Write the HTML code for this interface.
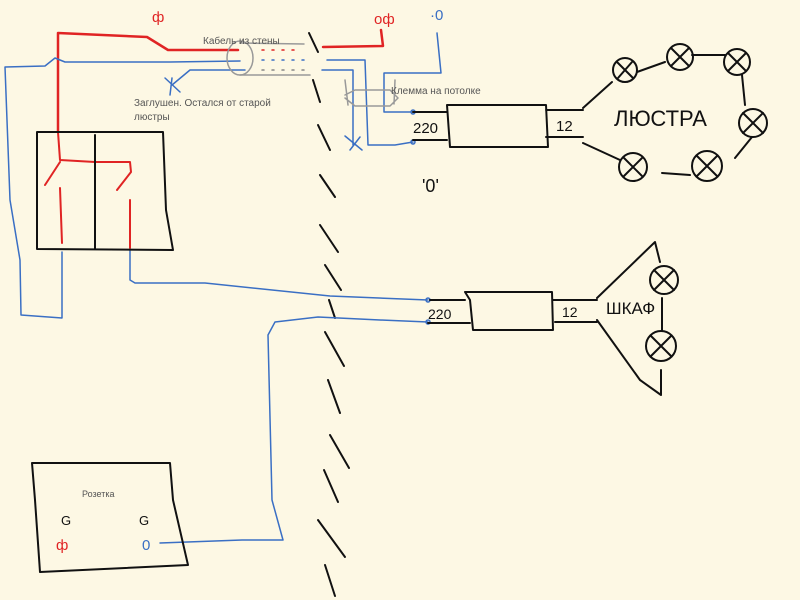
<!DOCTYPE html>
<html><head><meta charset="utf-8"><style>
html,body{margin:0;padding:0;background:#fdf8e4;}
svg{display:block}
text{font-family:"Liberation Sans",sans-serif}
</style></head><body>
<svg width="800" height="600" viewBox="0 0 800 600" xmlns="http://www.w3.org/2000/svg">
<rect width="800" height="600" fill="#fdf8e4"/>
<g fill="none" stroke-linecap="round" stroke-linejoin="round">
<!-- wall dashed -->
<path d="M309,33 L318,52 M313,80 L320,102 M318,125 L330,150 M320,175 L335,197 M320,225 L338,252 M325,265 L341,290 M329,300 L335,318 M325,332 L344,366 M328,380 L340,413 M330,435 L349,468 M324,470 L338,502 M318,520 L345,557 M325,565 L335,596" stroke="#111" stroke-width="2"/>
<!-- red lines -->
<path d="M58,132 L58,33 L147,37 L168,50 L238,50" stroke="#e02424" stroke-width="2.5"/>
<path d="M323,47 L383,46 L381,30" stroke="#e02424" stroke-width="2.5"/>
<path d="M58,132 L60,160 L95,162 L130,162 L131,172 L117,190 M60,162 L45,185 M60,188 L62,243 M130,200 L130,248" stroke="#e02424" stroke-width="2"/>
<!-- blue lines -->
<g stroke="#3a6fc4" stroke-width="1.5">
<path d="M240,61 L170,62 L65,62 L55,58 L45,66 L5,67 L10,200 L20,260 L21,315 L62,318 L62,252"/>
<path d="M245,70 L190,70 L172,85 M165,78 L180,92 M172,78 L170,95"/>
<path d="M327,60 L365,60 L368,145 L395,145 L413,142"/>
<path d="M322,70 L353,70 L353,145 M345,136 L362,150 M350,150 L360,137"/>
<path d="M437,33 L441,73 L384,73 L384,112 L413,112"/>
<path d="M130,250 L130,280 L135,283 L205,283 L330,296 L428,300"/>
<path d="M428,322 L380,320 L318,317 L275,322 L268,335 L272,500 L283,540 L242,540 L160,543"/>
<circle cx="413" cy="112" r="2"/><circle cx="413" cy="142" r="2"/>
<circle cx="428" cy="300" r="2"/><circle cx="428" cy="322" r="2"/>
</g>
<!-- cable -->
<g stroke="#999" stroke-width="1.5">
<ellipse cx="240" cy="58" rx="13" ry="17"/>
<path d="M240,43 L304,44 M240,75 L310,75"/>
<path d="M345,80 L348,105 M345,95 L355,90 L390,90 L398,98 L390,106 L355,106 L345,98 M395,80 L394,104"/>
</g>
<g stroke-dasharray="2 8" stroke-width="1.5">
<path d="M262,50 L300,50" stroke="#e02424"/>
<path d="M262,60 L312,60" stroke="#3a6fc4"/>
<path d="M262,70 L312,70" stroke="#888"/>
</g>
<!-- black -->
<g stroke="#111" stroke-width="2">
<path d="M37,132 L163,132 L166,210 L173,250 L37,249 Z M95,135 L95,248"/>
<path d="M447,105 L546,105 L548,147 L450,147 Z M413,112 L447,112 M413,140 L447,140 M546,110 L583,110 M546,137 L583,137"/>
<path d="M583,108 L612,82 M637,72 L665,62 M692,55 L725,55 M742,75 L745,105 M752,137 L735,158 M690,175 L662,173 M583,143 L620,160"/>
<circle cx="625" cy="70" r="12"/><path d="M617,62 L633,78 M632,62 L618,78"/>
<circle cx="680" cy="57" r="13"/><path d="M671,48 L689,66 M689,48 L671,66"/>
<circle cx="737" cy="62" r="13"/><path d="M728,53 L746,71 M746,53 L728,71"/>
<circle cx="753" cy="123" r="14"/><path d="M743,113 L763,133 M763,113 L743,133"/>
<circle cx="707" cy="166" r="15"/><path d="M697,156 L717,176 M717,156 L697,176"/>
<circle cx="633" cy="167" r="14"/><path d="M624,158 L642,176 M642,158 L624,176"/>
<path d="M465,292 L552,292 L553,330 L473,330 L470,300 Z M430,300 L465,300 M428,323 L470,323 M553,300 L597,300 M555,322 L597,322"/>
<path d="M597,298 L655,242 L660,262 M597,320 L640,380 L661,395 L661,370 M662,298 L662,330"/>
<circle cx="664" cy="280" r="14"/><path d="M654,270 L674,290 M674,270 L654,290"/>
<circle cx="661" cy="346" r="15"/><path d="M651,336 L671,356 M671,336 L651,356"/>
<path d="M32,463 L170,463 L173,500 L188,565 L40,572 L35,500 Z"/>
</g>
</g>
<g font-size="10" fill="#555">
<text x="203" y="44">Кабель из стены</text>
<text x="134" y="106">Заглушен. Остался от старой</text>
<text x="134" y="120">люстры</text>
<text x="391" y="94">Клемма на потолке</text>
<text x="82" y="497" font-size="9">Розетка</text>
</g>
<g fill="#111">
<text x="413" y="133" font-size="15">220</text>
<text x="556" y="131" font-size="15">12</text>
<text x="614" y="126" font-size="22">ЛЮСТРА</text>
<text x="422" y="192" font-size="18">'0'</text>
<text x="428" y="319" font-size="14">220</text>
<text x="562" y="317" font-size="14">12</text>
<text x="606" y="314" font-size="17">ШКАФ</text>
<text x="61" y="525" font-size="13">G</text>
<text x="139" y="525" font-size="13">G</text>
</g>
<text x="152" y="22" font-size="15" fill="#e02424">ф</text>
<text x="374" y="24" font-size="15" fill="#e02424">оф</text>
<text x="430" y="20" font-size="15" fill="#3a6fc4">·0</text>
<text x="56" y="550" font-size="15" fill="#e02424">ф</text>
<text x="142" y="550" font-size="15" fill="#3a6fc4">0</text>
</svg>
</body></html>
